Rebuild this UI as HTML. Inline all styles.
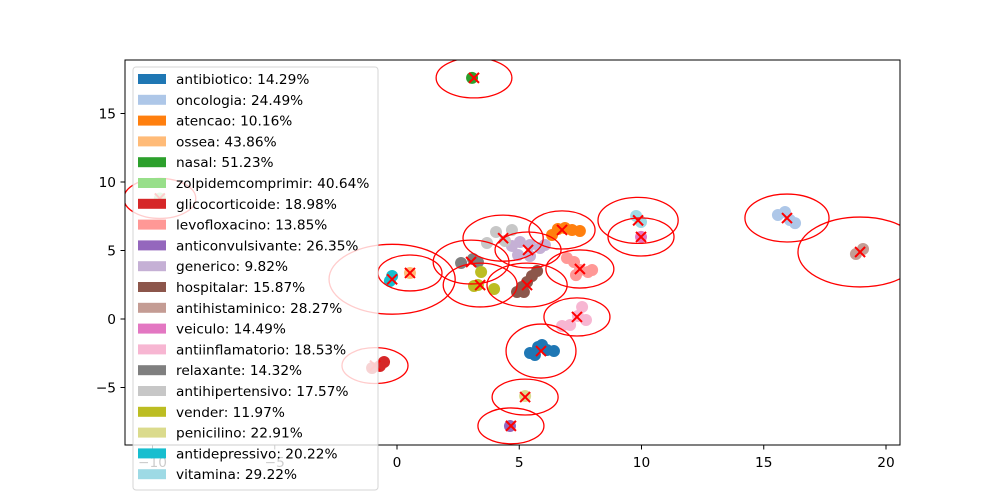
<!DOCTYPE html>
<html><head><meta charset="utf-8"><style>
html,body{margin:0;padding:0;background:#fff;}
svg{display:block;font-family:"DejaVu Sans","Liberation Sans",sans-serif;}
</style></head><body>
<svg id="chart" width="1000" height="500" viewBox="0 0 1000 500">
<defs><clipPath id="plotclip"><rect x="125" y="60" width="775" height="385"/></clipPath></defs>
<rect x="0" y="0" width="1000" height="500" fill="#fff"/>
<g id="marks" clip-path="url(#plotclip)"></g>
<g id="axes"></g>
<g id="legend"></g>
</svg>
<script>
const categories = ["antibiotico","oncologia","atencao","ossea","nasal","zolpidemcomprimir","glicocorticoide","levofloxacino","anticonvulsivante","generico","hospitalar","antihistaminico","veiculo","antiinflamatorio","relaxante","antihipertensivo","vender","penicilino","antidepressivo","vitamina"];
const percents = ["14.29","24.49","10.16","43.86","51.23","40.64","18.98","13.85","26.35","9.82","15.87","28.27","14.49","18.53","14.32","17.57","11.97","22.91","20.22","29.22"];
const colors = ["#1f77b4","#aec7e8","#ff7f0e","#ffbb78","#2ca02c","#98df8a","#d62728","#ff9896","#9467bd","#c5b0d5","#8c564b","#c49c94","#e377c2","#f7b6d2","#7f7f7f","#c7c7c7","#bcbd22","#dbdb8d","#17becf","#9edae5"];
const points = [
 [[5.44,-2.48],[5.77,-2.04],[5.93,-1.9],[6.13,-2.26],[6.42,-2.34],[5.64,-2.63]],
 [[15.58,7.59],[15.87,7.81],[16.07,7.23],[16.28,7.0]],
 [[6.34,6.13],[6.58,6.57],[6.87,6.64],[7.16,6.5],[7.48,6.42]],
 [[0.53,3.36]],
 [[3.07,17.6]],
 [[-9.7,8.8]],
 [[-0.53,-3.14],[-0.7,-3.43],[-1.02,-3.58]],
 [[6.95,4.45],[7.24,4.16],[7.48,3.58],[7.81,3.43],[7.32,3.2],[7.98,3.58]],
 [[4.62,-7.81]],
 [[4.7,5.33],[5.03,5.62],[5.44,5.4],[5.85,5.18],[6.05,5.4],[4.95,4.67],[5.44,4.6]],
 [[4.91,1.97],[5.11,2.34],[5.32,2.7],[5.52,3.14],[5.73,3.5],[5.19,1.97]],
 [[18.77,4.74],[19.06,5.11]],
 [[9.98,5.99]],
 [[7.57,0.88],[7.4,0.22],[7.08,-0.44],[6.75,-0.51],[7.73,-0.07]],
 [[2.62,4.09],[3.11,4.38],[3.31,4.16]],
 [[4.05,6.35],[4.7,6.5],[3.68,5.55],[4.42,5.69]],
 [[3.44,3.43],[3.31,2.48],[3.97,2.19],[3.15,2.41]],
 [[5.24,-5.62]],
 [[-0.2,3.14],[-0.29,2.77]],
 [[9.78,7.52],[9.98,7.08]]
];
const centersX = [5.89,15.95,6.75,0.53,3.15,-9.7,-0.9,7.48,4.66,5.36,5.32,18.94,9.98,7.36,3.03,4.34,3.4,5.24,-0.2,9.86];
const centersY = [-2.34,7.37,6.5,3.36,17.6,8.8,-3.4,3.65,-7.8,5.04,2.48,4.89,5.99,0.15,4.16,5.9,2.48,-5.7,2.9,7.2];
const radiiX = [1.43,1.72,1.35,1.31,1.55,1.47,1.35,1.39,1.35,1.35,1.64,2.54,1.35,1.35,1.55,1.64,1.51,1.35,2.58,1.64];
const radiiY = [1.97,1.75,1.39,1.31,1.46,1.46,1.31,1.39,1.31,1.31,1.6,2.55,1.39,1.39,1.6,1.68,1.6,1.31,2.55,1.68];
const xTicks = [-10,-5,0,5,10,15,20];
const yTicks = [-5,0,5,10,15];

const NS="http://www.w3.org/2000/svg";
const X0=397, XS=24.45, Y0=319, YS=13.7;
function sx(v){return X0+v*XS;}
function sy(v){return Y0-v*YS;}
function mk(tag,attrs,parent){const e=document.createElementNS(NS,tag);for(const k in attrs)e.setAttribute(k,attrs[k]);parent.appendChild(e);return e;}
const marks=document.getElementById('marks'), axes=document.getElementById('axes'), legend=document.getElementById('legend');

categories.forEach((c,i)=>{
  points[i].forEach(p=>{
    const d=mk('circle',{cx:sx(p[0]),cy:sy(p[1]),r:6,fill:colors[i]},marks);
    
    
  });
});
categories.forEach((c,i)=>{
  const cx=sx(centersX[i]), cy=sy(centersY[i]);
  const el=mk('ellipse',{cx:cx,cy:cy,rx:radiiX[i]*XS,ry:radiiY[i]*YS,fill:'none',stroke:'#ff0000','stroke-width':1.3},marks);
  
  
  const g=mk('g',{stroke:'#ff0000','stroke-width':2},marks);
  
  
  mk('line',{x1:cx-5,y1:cy-5,x2:cx+5,y2:cy+5},g);
  mk('line',{x1:cx-5,y1:cy+5,x2:cx+5,y2:cy-5},g);
});

const fr=mk('rect',{x:125,y:60,width:775,height:385,fill:'none',stroke:'#000','stroke-width':1},axes);


xTicks.forEach(t=>{
  const x=sx(t);
  mk('line',{x1:x,y1:445,x2:x,y2:449.5,stroke:'#000'},axes);
  const tx=mk('text',{x:x,y:467,'text-anchor':'middle','font-size':13.7,fill:'#000'},axes);
  tx.textContent=t<0?'\u2212'+(-t):String(t);
  
  
});
yTicks.forEach(t=>{
  const y=sy(t);
  mk('line',{x1:120.5,y1:y,x2:125,y2:y,stroke:'#000'},axes);
  const tx=mk('text',{x:116,y:y+5,'text-anchor':'end','font-size':13.7,fill:'#000'},axes);
  tx.textContent=t<0?'\u2212'+(-t):String(t);
  
  
});

const lb=mk('rect',{x:133,y:67,width:245,height:423,rx:3,fill:'#fff','fill-opacity':0.8,stroke:'#cccccc','stroke-opacity':0.8},legend);


categories.forEach((c,i)=>{
  const y=79+i*20.8;
  const g=mk('g',{},legend);
  
  
  mk('rect',{x:138,y:y-5,width:28,height:10,fill:colors[i]},g);
  const t=mk('text',{x:176,y:y+5,'font-size':13.7,fill:'#000'},g);
  t.textContent=c+': '+percents[i]+'%';
});
</script>
</body></html>
